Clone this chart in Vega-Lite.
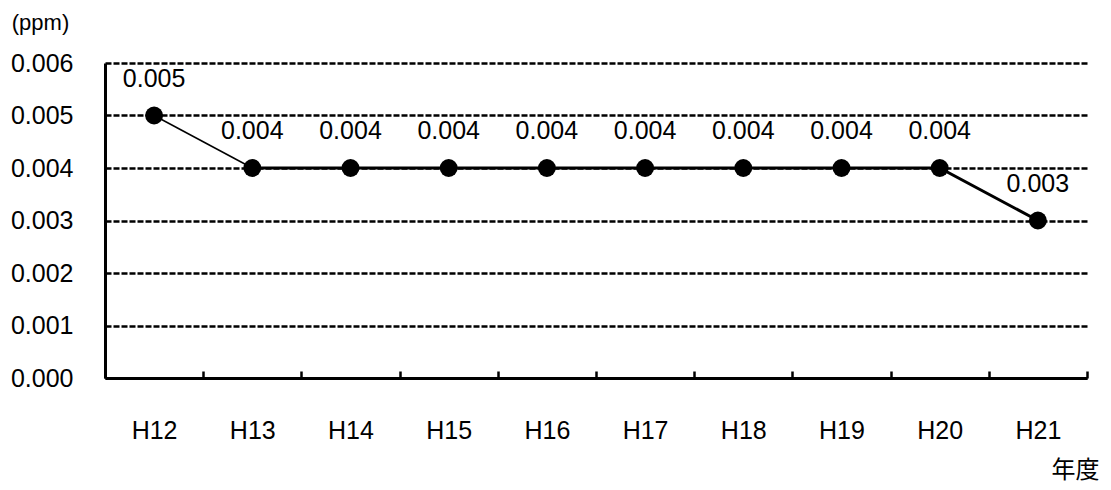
{
  "$schema": "https://vega.github.io/schema/vega-lite/v6.json",
  "width": 982,
  "height": 315,
  "autosize": {"type": "none"},
  "padding": {"left": 105, "top": 63, "right": 24, "bottom": 112},
  "background": "white",
  "config": {
    "view": {"stroke": null},
    "font": "Liberation Sans",
    "axis": {"labelFont": "Liberation Sans", "labelColor": "black", "titleColor": "black"}
  },
  "data": {
    "values": [
      {"year": "H12", "ppm": 0.005},
      {"year": "H13", "ppm": 0.004},
      {"year": "H14", "ppm": 0.004},
      {"year": "H15", "ppm": 0.004},
      {"year": "H16", "ppm": 0.004},
      {"year": "H17", "ppm": 0.004},
      {"year": "H18", "ppm": 0.004},
      {"year": "H19", "ppm": 0.004},
      {"year": "H20", "ppm": 0.004},
      {"year": "H21", "ppm": 0.003}
    ]
  },
  "encoding": {
    "x": {
      "field": "year",
      "type": "nominal",
      "sort": null,
      "scale": {"type": "band", "paddingInner": 0, "paddingOuter": 0},
      "axis": {
        "title": "年度",
        "titleFont": "Noto Sans CJK JP",
        "titleFontSize": 24,
        "titleFontWeight": "normal",
        "titleAlign": "center",
        "titleBaseline": "middle",
        "titleAnchor": null,
        "titleX": 970,
        "titleY": 92,
        "labelAngle": 0,
        "labelFontSize": 25,
        "labelPadding": 59,
        "labelBaseline": "middle",
        "domainColor": "black",
        "domainWidth": 3,
        "tickColor": "black",
        "tickWidth": 2.5,
        "tickSize": -7,
        "tickBand": "extent",
        "grid": false
      }
    },
    "y": {
      "field": "ppm",
      "type": "quantitative",
      "scale": {"domain": [0, 0.006], "nice": false},
      "axis": {
        "title": "(ppm)",
        "titleFont": "Liberation Sans",
        "titleFontSize": 22,
        "titleFontWeight": "normal",
        "titleAngle": 0,
        "titleAlign": "center",
        "titleBaseline": "middle",
        "titleAnchor": null,
        "titleX": -65,
        "titleY": -41,
        "values": [0, 0.001, 0.002, 0.003, 0.004, 0.005, 0.006],
        "format": ".3f",
        "labelFontSize": 25,
        "labelPadding": 32,
        "ticks": false,
        "domainColor": "black",
        "domainWidth": 3,
        "grid": true,
        "gridColor": "black",
        "gridWidth": 2.5,
        "gridDash": [6, 2],
        "gridOpacity": 1
      }
    }
  },
  "layer": [
    {
      "transform": [{"filter": "indexof(['H12','H13'], datum.year) >= 0"}],
      "mark": {"type": "line", "color": "black", "strokeWidth": 1.5},
      "encoding": {}
    },
    {
      "transform": [{"filter": "datum.year != 'H12'"}],
      "mark": {"type": "line", "color": "black", "strokeWidth": 3},
      "encoding": {}
    },
    {
      "mark": {"type": "point", "shape": "circle", "filled": true, "color": "black", "opacity": 1, "size": 320},
      "encoding": {}
    },
    {
      "mark": {"type": "text", "fontSize": 25, "dy": -37, "color": "black", "font": "Liberation Sans"},
      "encoding": {"text": {"field": "ppm", "type": "quantitative", "format": ".3f"}}
    }
  ]
}
